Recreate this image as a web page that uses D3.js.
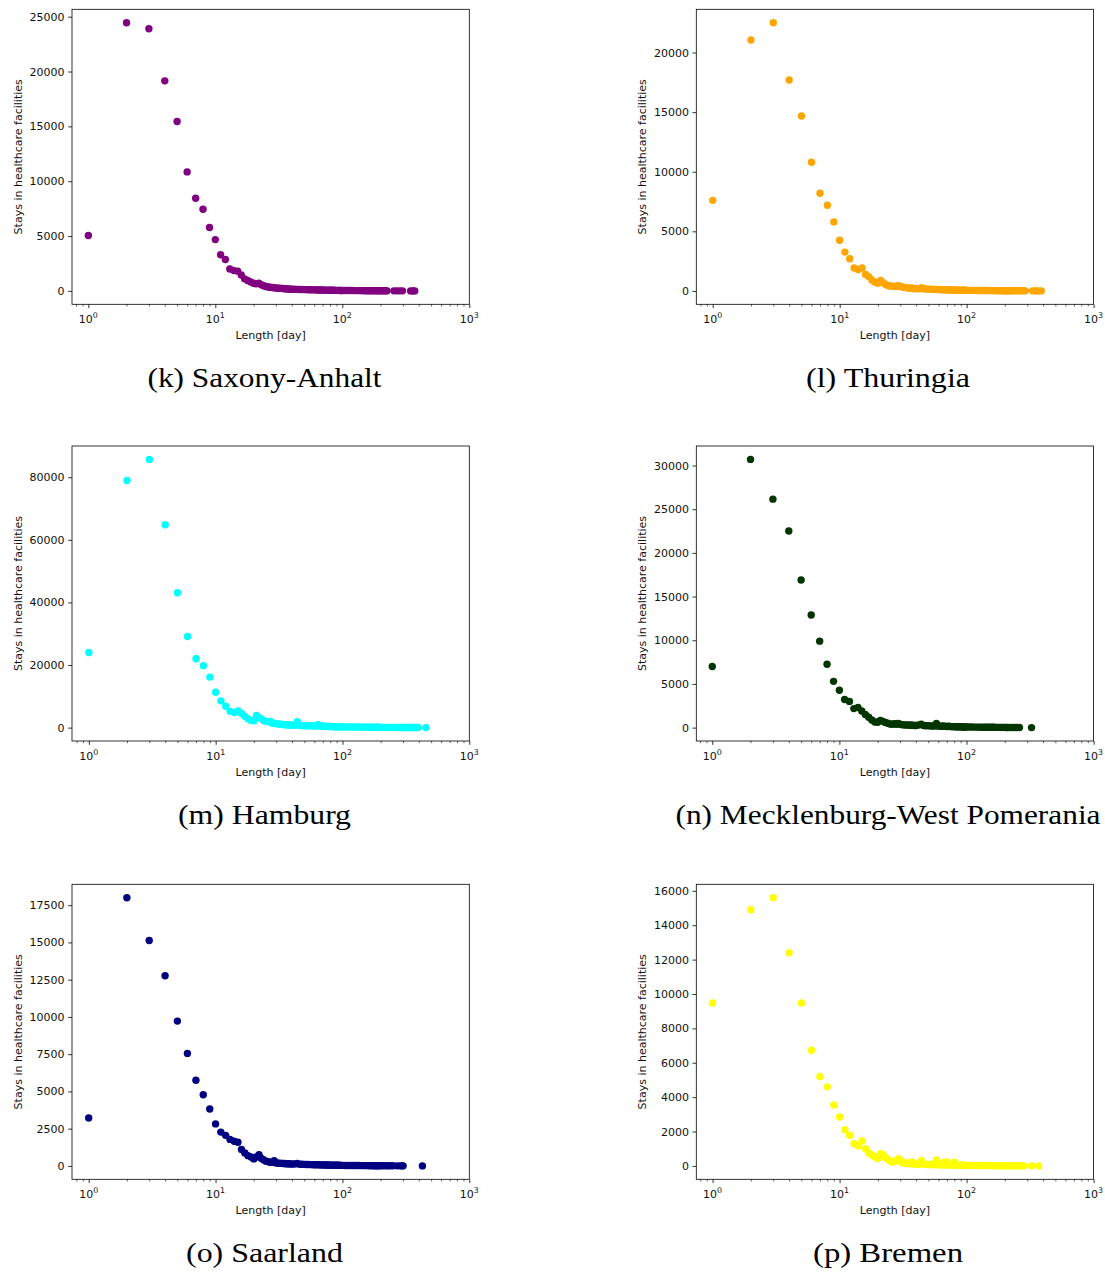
<!DOCTYPE html>
<html><head><meta charset="utf-8">
<script src="https://cdn.jsdelivr.net/npm/d3@7"></script>
<style>body{margin:0;background:#fff;} svg{display:block;}</style>
</head><body>
<svg id="c" width="1105" height="1272"></svg>
<script>
// ---- shared length values (days) for the dense part of every panel ----
const days = [1,2,3,4,5,6,7,8,9,10,11,12,13,14,15,16,17,18,19,20,21,22,23,24,25,26,27,28,29,30,31,32,33,34,35,36,37,38,39,40,
  42,44,46,48,50,52,54,56,58,60,62,64,66,68,70,72,74,76,78,80,82,84,86,88,90,92,94,96,98,100,
  105,110,115,120,125,130,135,140,145,150,155,160,165,170,175,180,185,190,195,200];

// ---- (k) Saxony-Anhalt ----
const staysK = [5050,24450,23900,19150,15450,10850,8450,7450,5780,4680,
  3300,2860,2000,1850,1800,1450,1100,950,820,700,
  650,700,560,470,400,360,330,310,290,270,
  250,240,230,220,200,190,180,170,165,155,
  150,140,135,125,120,115,110,105,100,95,92,88,85,80,78,75,72,68,65,62,60,58,55,52,50,48,46,44,42,40,
  38,36,34,32,30,28,27,26,24,22,21,20,19,18,17,16,15,14,13,12];
const tailDaysK  = [205,210,215,220,225,255,268,283,298,345,360,372];
const tailStaysK = [11,10,10,9,8,5,5,4,4,3,3,2];
const yTicksK = [0,5000,10000,15000,20000,25000];

// ---- (l) Thuringia ----
const staysL = [7600,21050,22500,17700,14680,10800,8200,7190,5790,4250,
  3260,2700,1930,1800,1930,1380,1180,900,720,640,
  880,700,540,460,420,400,390,370,430,380,
  330,300,280,260,240,230,250,210,200,190,
  180,270,170,160,150,140,135,130,120,115,110,105,100,95,90,88,85,82,78,75,72,70,68,65,62,60,58,55,52,50,
  48,46,44,42,40,38,36,34,32,30,29,28,27,26,25,24,23,22,21,20];
const tailDaysL  = [205,210,215,220,225,230,240,250,260,270,280,290,330,350,365,387];
const tailStaysL = [19,18,18,17,16,15,14,13,12,11,10,9,6,5,5,4];
const yTicksL = [0,5000,10000,15000,20000];

// ---- (m) Hamburg ----
const staysM = [24000,79000,85700,64800,43100,29100,22000,19800,16150,11300,
  8550,6850,5200,4800,5300,4500,3600,2800,2300,2200,
  3900,3200,2800,2200,2000,1900,2000,1400,1350,1250,
  1200,1100,1050,1000,950,900,850,820,800,780,
  750,1900,700,650,620,600,580,620,560,520,500,900,480,450,430,420,400,380,360,350,340,320,310,300,290,280,270,260,250,240,
  230,220,210,200,190,180,170,160,150,145,140,130,125,120,115,110,105,100,95,90];
const tailDaysM  = [210,220,230,240,250,260,270,280,290,300,310,320,330,340,350,360,370,380,395,454];
const tailStaysM = [85,80,75,70,65,60,55,50,48,45,42,40,38,35,32,30,28,25,20,10];
const yTicksM = [0,20000,40000,60000,80000];

// ---- (n) Mecklenburg-West Pomerania ----
const staysN = [7000,30700,26150,22500,16900,12900,9900,7250,5300,4280,
  3220,3000,2180,2300,1900,1500,1180,875,650,620,
  820,720,600,500,420,380,450,390,470,380,
  340,320,300,320,290,270,300,260,240,250,
  300,400,240,220,230,200,190,180,480,170,160,150,180,140,130,150,125,120,115,110,105,100,95,100,90,85,80,78,75,72,
  70,65,62,60,55,52,50,48,45,42,40,38,36,34,32,30,28,26,25,24];
const tailDaysN  = [205,210,220,230,240,250,261,325];
const tailStaysN = [22,20,18,16,14,12,10,5];
const yTicksN = [0,5000,10000,15000,20000,25000,30000];

// ---- (o) Saarland ----
const staysO = [3220,18000,15130,12760,9720,7550,5750,4780,3820,2820,
  2270,2050,1780,1660,1590,1100,870,690,600,470,
  600,760,500,400,320,280,250,240,350,200,
  190,180,170,165,160,150,145,140,135,130,
  125,160,115,110,105,100,95,90,85,80,78,75,72,70,67,65,62,60,58,55,52,50,48,46,44,42,40,38,36,35,
  33,31,30,28,27,25,24,23,22,21,20,19,18,17,16,15,14,13,12,12];
const tailDaysO  = [210,220,230,237,250,270,285,295,301,427];
const tailStaysO = [11,10,9,8,7,6,5,5,4,2];
const yTicksO = [0,2500,5000,7500,10000,12500,15000,17500];

// ---- (p) Bremen ----
const staysP = [9480,14900,15600,12400,9480,6730,5200,4600,3540,2845,
  2100,1780,1290,1170,1450,1000,750,620,520,425,
  710,660,470,370,280,230,270,300,420,330,
  200,180,170,160,140,130,230,120,110,100,
  95,300,90,85,80,75,110,70,350,65,62,60,200,58,230,52,50,48,46,220,44,42,40,38,36,35,34,33,32,31,
  30,29,28,27,26,25,24,23,22,21,20,19,18,17,16,15,14,13,12,11];
const tailDaysP  = [210,220,230,240,250,260,270,282,325,369];
const tailStaysP = [10,10,9,8,8,7,6,5,3,2];
const yTicksP = [0,2000,4000,6000,8000,10000,12000,14000,16000];

const xMajorTicks = [1,10,100,1000];
const xMinorTicks = [0.8,0.9,2,3,4,5,6,7,8,9,20,30,40,50,60,70,80,90,200,300,400,500,600,700,800,900];

const captions = ['(k) Saxony-Anhalt','(l) Thuringia','(m) Hamburg','(n) Mecklenburg-West Pomerania','(o) Saarland','(p) Bremen'];
const staysAll = [staysK, staysL, staysM, staysN, staysO, staysP];
const tailDaysAll = [tailDaysK, tailDaysL, tailDaysM, tailDaysN, tailDaysO, tailDaysP];
const tailStaysAll = [tailStaysK, tailStaysL, tailStaysM, tailStaysN, tailStaysO, tailStaysP];
const yTicksAll = [yTicksK, yTicksL, yTicksM, yTicksN, yTicksO, yTicksP];

// ---- styles / layout ----
const colors = ['#800080','#FFA500','#00FFFF','#033500','#000080','#FFFF00'];
const captionWidths = [234, 164, 173, 425, 157, 150];
const colX = [72, 696.3], colW = 397.3;
const rowY = [9.3, 446, 884.3], rowH = 295;
const capX = [264.5, 888], capDy = 378;
const font = "'DejaVu Sans', sans-serif";
const fs = 11;

const svg = d3.select('#c');

captions.forEach((cap, i) => {
  const col = i % 2, row = Math.floor(i / 2);
  const x0 = colX[col], y0 = rowY[row];
  const data = days.map((d, j) => ({d, v: staysAll[i][j]}))
    .concat(tailDaysAll[i].map((d, j) => ({d, v: tailStaysAll[i][j]})));
  const maxD = d3.max(data, p => p.d), minD = d3.min(data, p => p.d);
  const lr = Math.log10(maxD) - Math.log10(minD);
  const x = d3.scaleLog().domain([Math.pow(10, Math.log10(minD) - 0.05 * lr), 1000]).range([0, colW]);
  const vmin = d3.min(data, p => p.v), vmax = d3.max(data, p => p.v);
  const vr = vmax - vmin;
  const y = d3.scaleLinear().domain([vmin - 0.05 * vr, vmax + 0.05 * vr]).range([rowH, 0]);

  const g = svg.append('g').attr('transform', `translate(${x0},${y0})`);

  // points
  g.append('g').selectAll('circle').data(data).join('circle')
    .attr('cx', p => x(p.d)).attr('cy', p => y(p.v)).attr('r', 3.7)
    .attr('fill', colors[i]);

  // frame
  g.append('rect').attr('x', 0).attr('y', 0).attr('width', colW).attr('height', rowH)
    .attr('fill', 'none').attr('stroke', '#000').attr('stroke-width', 0.8);

  // x major ticks
  const xa = g.append('g').attr('transform', `translate(0,${rowH})`)
    .call(d3.axisBottom(x).tickValues(xMajorTicks).tickSize(3.8).tickFormat(''));
  xa.select('.domain').remove();
  xa.selectAll('line').attr('stroke', '#000').attr('stroke-width', 0.8);
  const xm = g.append('g').attr('transform', `translate(0,${rowH})`)
    .call(d3.axisBottom(x).tickValues(xMinorTicks.filter(t => t >= x.domain()[0])).tickSize(2.2).tickFormat(''));
  xm.select('.domain').remove();
  xm.selectAll('line').attr('stroke', '#000').attr('stroke-width', 0.6);

  // x tick labels 10^k
  xMajorTicks.forEach(t => {
    const tx = g.append('text').attr('x', x(t)).attr('y', rowH + 18.7)
      .attr('text-anchor', 'middle').attr('font-family', font).attr('font-size', fs).attr('fill', '#111');
    tx.append('tspan').text('10');
    tx.append('tspan').attr('font-size', fs * 0.72).attr('dy', -4.6).text(String(Math.round(Math.log10(t))));
  });

  // y axis
  const ya = g.append('g').call(d3.axisLeft(y).tickValues(yTicksAll[i]).tickSize(3.8).tickPadding(3.6).tickFormat(d3.format('d')));
  ya.select('.domain').remove();
  ya.selectAll('line').attr('stroke', '#000').attr('stroke-width', 0.8);
  ya.selectAll('text').attr('font-family', font).attr('font-size', fs).attr('fill', '#111');

  // axis labels
  g.append('text').attr('x', colW / 2).attr('y', rowH + 35).attr('text-anchor', 'middle')
    .attr('font-family', font).attr('font-size', fs).attr('fill', '#111').text('Length [day]');
  g.append('text').attr('transform', `translate(-50.5,${rowH / 2}) rotate(-90)`).attr('text-anchor', 'middle')
    .attr('font-family', font).attr('font-size', fs).attr('fill', '#111').text('Stays in healthcare facilities');

  // caption
  svg.append('text').attr('x', capX[col]).attr('y', y0 + capDy).attr('text-anchor', 'middle')
    .attr('font-family', "'Liberation Serif', 'DejaVu Serif', serif").attr('font-size', 27).attr('fill', '#000')
    .attr('textLength', captionWidths[i]).attr('lengthAdjust', 'spacingAndGlyphs')
    .text(cap);
});
</script>
</body></html>
